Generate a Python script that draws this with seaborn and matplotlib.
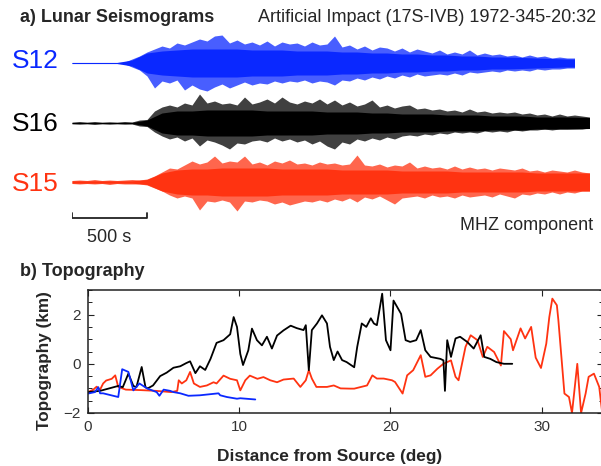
import numpy as np
import matplotlib
matplotlib.use("Agg")
import matplotlib.pyplot as plt
from matplotlib.ticker import MultipleLocator
import seaborn as sns

# --- seismogram envelopes (relative amplitude), outer peaks every 50 s ---
dt_env = 50
s12_up = [0.6, 0.6, 0.6, 0.6, 0.6, 0.6, 0.6, 0.8,
          4, 7, 11, 14, 17, 15, 20, 18, 21, 24,
          22, 27, 28, 20, 23, 19, 21, 18, 22, 17,
          21, 19, 20, 17, 21, 18, 19, 27, 16, 18,
          14, 17, 13, 16, 15, 12, 15, 11, 14, 12,
          10, 13, 9, 11, 9, 13, 8, 10, 8, 9,
          7, 8, 6, 8, 6, 7, 5, 6, 5, 5]
s12_dn = [0.6, 0.6, 0.6, 0.6, 0.6, 0.6, 0.6, 0.8,
          4, 7, 13, 25, 18, 20, 17, 27, 22, 26,
          28, 24, 21, 25, 22, 19, 22, 20, 21, 18,
          20, 18, 19, 17, 20, 18, 19, 22, 17, 18,
          15, 17, 14, 16, 13, 15, 12, 14, 11, 13,
          12, 11, 12, 10, 12, 9, 10, 9, 8, 9,
          7, 8, 7, 8, 6, 7, 6, 6, 5, 5]
s16_up = [0.8, 1.5, 0.8, 1.5, 0.8, 1.2, 0.8, 1.5, 1.0,
          3, 3.5, 12, 16, 18, 16, 20, 18, 29, 20,
          22, 19, 20, 18, 26, 19, 21, 24, 20, 26,
          21, 19, 22, 20, 24, 19, 23, 18, 21, 17,
          19, 23, 16, 18, 15, 17, 18, 14, 15, 13,
          14, 12, 13, 11, 14, 11, 12, 10, 11, 10,
          11, 9, 10, 8, 9, 7, 9, 7, 8, 7, 6]
s16_dn = [0.8, 1.2, 0.8, 1.5, 0.8, 1.2, 0.8, 1.2, 1.0,
          3, 3.5, 9, 13, 16, 14, 18, 15, 23, 17,
          19, 22, 26, 20, 21, 18, 17, 19, 15, 18,
          16, 19, 17, 21, 18, 23, 26, 19, 21, 16,
          18, 15, 17, 14, 16, 13, 12, 13, 11, 12,
          10, 11, 9, 10, 9, 10, 8, 9, 8, 9,
          7, 8, 7, 7, 6, 7, 6, 6, 6, 6, 5]
s15_up = [1.5, 2, 1.5, 2.5, 1.5, 2, 1.5, 2, 2.5, 2,
          3, 6, 10, 14, 13, 17, 21, 18, 20, 26,
          19, 21, 20, 26, 18, 20, 17, 21, 19, 22,
          18, 19, 17, 20, 18, 19, 17, 18, 27, 17,
          16, 18, 15, 17, 16, 20, 14, 16, 14, 15,
          13, 16, 13, 15, 13, 14, 12, 14, 13, 12,
          14, 11, 12, 10, 12, 11, 10, 12, 10, 9]
s15_dn = [1.5, 2, 1.5, 2, 1.5, 2.5, 1.5, 2, 2, 2,
          3, 6, 9, 13, 16, 14, 16, 28, 19, 20,
          18, 20, 29, 19, 20, 18, 19, 22, 20, 23,
          21, 19, 20, 18, 20, 17, 19, 16, 20, 15,
          17, 14, 18, 22, 16, 15, 14, 16, 13, 15,
          14, 16, 13, 15, 14, 13, 15, 12, 14, 16,
          12, 13, 11, 12, 10, 12, 10, 11, 9, 9]

# dense core of each trace, every 100 s
dt_core = 100
s12_core = [0.5, 0.5, 0.5, 0.5, 3, 10, 12, 13, 14, 14, 14, 14, 13, 13, 13, 12, 12,
            12, 11, 11, 10, 10, 9, 9, 8, 8, 7, 7, 6, 6, 5.5, 5, 4.5, 4, 4]
s16_core = [0.6, 0.6, 0.6, 0.6, 0.6, 3, 10, 12, 12, 13, 13, 13, 13, 12, 12, 12, 12,
            11, 11, 11, 10, 10, 9, 9, 9, 8, 8, 8, 7, 7, 7, 6, 6, 6, 5.5]
s15_core = [1.2, 1.2, 1.2, 1.2, 1.2, 2.5, 9, 12, 13, 13, 14, 14, 14, 14, 13, 13, 13,
            13, 12, 12, 12, 12, 11, 11, 11, 11, 10, 10, 10, 10, 10, 9, 9, 9, 9]

# --- topography along the paths ---
black_deg = [0, 0.8, 1.4, 2.0, 2.3, 2.67, 3.0, 3.2, 3.55, 3.8,
             3.95, 4.3, 4.77, 5.2, 5.65, 6.1, 6.5, 6.75, 7.1, 7.4,
             7.75, 8.1, 8.5, 8.96, 9.4, 9.63, 9.85, 10.07, 10.25, 10.6,
             10.84, 11.17, 11.5, 11.83, 12.16, 12.5, 12.93, 13.4, 13.8, 14.25,
             14.4, 14.6, 14.8, 15.14, 15.47, 15.8, 16.0, 16.25, 16.5, 16.8,
             17.1, 17.6, 17.8, 18.1, 18.4, 18.7, 18.9, 19.1, 19.45, 19.7,
             20.0, 20.2, 20.7, 21.0, 21.3, 21.7, 22.0, 22.3, 22.65, 23.3,
             23.5, 23.6, 23.75, 24.0, 24.3, 24.6, 25.07, 25.5, 25.96, 26.2,
             26.6, 27.0, 27.5, 28.05]
black_km = [-1.15, -1.1, -1.0, -0.9, -0.95, -0.4, -0.9, -0.95, -0.13, -0.95,
            -1.0, -0.88, -0.5, -0.36, -0.16, -0.1, 0.03, 0.1, -0.38, -0.1,
            -0.25, 0.2, 0.85, 0.96, 1.2, 1.9, 1.5, 0.4, -0.05, 0.55,
            1.43, 0.96, 0.75, 1.1, 0.62, 1.15, 1.36, 1.55, 1.45, 1.37,
            1.57, -0.26, 1.37, 1.64, 1.97, 1.64, 0.69, 0.15, 0.5, 0.15,
            0.07, -0.14, 0.69, 1.64, 1.5, 1.85, 1.64, 1.57, 2.85, 0.96,
            0.55, 2.57, 2.03, 0.96, 0.89, 0.96, 1.37, 0.55, 0.28, 0.2,
            0.14, -1.1, 0.96, 0.28, 1.03, 1.1, 0.89, 0.62, 1.16, 0.28,
            0.2, 0.07, 0.0, 0.0]
red_deg = [0, 0.35, 0.57, 0.8, 1.0, 1.2, 1.57, 1.8, 2.0, 2.5,
           3.5, 4.5, 5.5, 5.9, 6.0, 6.2, 6.5, 6.75, 7.0, 7.4,
           7.86, 8.3, 8.5, 8.96, 9.4, 9.85, 10.07, 10.4, 10.7, 11.2,
           11.6, 12.05, 12.5, 12.93, 13.6, 14.04, 14.4, 14.6, 14.8, 15.1,
           15.8, 16.25, 16.7, 17.35, 17.6, 18.45, 18.8, 19.1, 19.55, 20.1,
           20.3, 20.8, 21.1, 21.5, 22.0, 22.3, 22.65, 23.1, 23.5, 24.0,
           24.3, 24.5, 24.96, 25.3, 25.75, 26.1, 26.4, 26.85, 27.3, 27.5,
           27.95, 28.1, 28.6, 28.9, 29.3, 29.6, 29.95, 30.3, 30.5, 30.7,
           31.0, 31.1, 31.5, 31.8, 32.0, 32.35, 32.6, 32.9, 33.1, 33.45,
           33.8, 34.0]
red_km = [-1.15, -1.05, -0.93, -1.05, -0.8, -0.68, -0.61, -0.47, -0.94, -1.05,
          -1.07, -1.1, -1.15, -1.1, -0.67, -0.8, -0.67, -0.33, -0.8, -0.94,
          -0.88, -0.75, -0.8, -0.48, -0.61, -0.67, -1.08, -0.67, -0.48, -0.61,
          -0.54, -0.67, -0.75, -0.64, -0.6, -0.94, -0.67, -0.26, -0.6, -0.94,
          -0.94, -0.88, -1.0, -1.01, -1.01, -0.88, -0.47, -0.6, -0.6, -0.67,
          -0.74, -1.21, -0.47, -0.26, 0.35, -0.53, -0.47, -0.2, 0.0, 0.14,
          -0.53, -0.67, 0.69, 1.16, 0.96, 0.28, 0.69, 0.48, -0.07, 1.33,
          1.0, 0.55, 1.44, 1.03, 1.5, 0.25, -0.17, 0.82, 1.9, 2.65,
          2.38, 1.77, -1.21, -1.35, -2.0, 0.0, -2.0, -1.21, -0.53, -0.4,
          -0.94, -2.0]
blue_deg = [0, 0.46, 0.68, 0.8, 1.0, 2.0, 2.26, 2.67, 3.0, 3.4, 3.9, 4.54, 4.72,
            5.0, 5.43, 5.65, 6.1, 6.64, 7.4, 8.63, 8.74, 9.18, 9.85, 10.07, 11.06]
blue_km = [-1.21, -1.15, -0.95, -1.2, -1.2, -1.35, -0.22, -0.33, -1.08, -0.8, -1.0,
           -1.15, -1.3, -1.05, -1.1, -1.15, -1.2, -1.3, -1.28, -1.2, -1.28, -1.35,
           -1.42, -1.4, -1.45]

BLUE = '#0a28ff'
RED = '#ff3311'

sns.set_theme(style='white')
plt.rcParams['font.family'] = ['Liberation Sans', 'DejaVu Sans']

W, H = 601, 466
fig = plt.figure(figsize=(W / 100, H / 100), dpi=100)


def box(x0, y0, x1, y1):
    return [x0 / W, 1 - y1 / H, (x1 - x0) / W, (y1 - y0) / H]


def ftext(x, y, s, **kw):
    fig.text(x / W, 1 - y / H, s, **kw)


# ---------- a) seismograms ----------
ax = fig.add_axes(box(72, 30, 597, 230))
ax.set_xlim(0, 3500)
ax.set_ylim(-200, 0)
ax.axis('off')

traces = [(s12_up, s12_dn, s12_core, BLUE, -33),
          (s16_up, s16_dn, s16_core, 'black', -93),
          (s15_up, s15_dn, s15_core, RED, -152)]
for up, dn, core, col, off in traces:
    t = np.arange(len(up)) * dt_env
    ax.fill_between(t, off + np.array(up), off - np.array(dn), color=col, alpha=0.75, lw=0)
    tc = np.arange(len(core)) * dt_core
    tc[-1] = t[-1]
    core = np.array(core)
    ax.fill_between(tc, off + core, off - core, color=col, lw=0)

# 500 s scale bar
ax.plot([0, 0, 500, 500], [-183, -188, -188, -183], color='#222222', lw=1.3)

ftext(20, 18, 'a) Lunar Seismograms', fontsize=13, fontweight='bold', va='center')
ftext(596, 18, 'Artificial Impact (17S-IVB) 1972-345-20:32', fontsize=13, ha='right', va='center')
ftext(12, 61, 'S12', fontsize=19, color=BLUE, va='center')
ftext(12, 124, 'S16', fontsize=19, color='black', va='center')
ftext(12, 184, 'S15', fontsize=19, color=RED, va='center')
ftext(109, 238, '500 s', fontsize=13, ha='center', va='center')
ftext(593, 226, 'MHZ component', fontsize=13, ha='right', va='center')

# ---------- b) topography ----------
ftext(20, 272, 'b) Topography', fontsize=13, fontweight='bold', va='center')
ax2 = fig.add_axes(box(88, 290, 603, 413))
sns.lineplot(x=red_deg, y=red_km, color=RED, lw=1.3, sort=False, estimator=None, ax=ax2)
sns.lineplot(x=black_deg, y=black_km, color='black', lw=1.3, sort=False, estimator=None, ax=ax2)
sns.lineplot(x=blue_deg, y=blue_km, color=BLUE, lw=1.3, sort=False, estimator=None, ax=ax2)
ax2.set_xlim(0, 34.05)
ax2.set_ylim(-2, 3)
ax2.set_xticks([0, 10, 20, 30])
ax2.set_yticks([-2, 0, 2])
ax2.yaxis.set_minor_locator(MultipleLocator(0.5))
ax2.tick_params(which='both', direction='in', top=True, right=True, left=True, bottom=True,
                colors='#222222', labelcolor='#333333', labelsize=11)
ax2.tick_params(which='major', length=4.5, width=0.8, pad=5)
ax2.tick_params(which='minor', length=3, width=0.7)
for sp in ax2.spines.values():
    sp.set_linewidth(1.1)
    sp.set_color('#222222')
ax2.set_xlabel('')
ax2.set_ylabel('')
ftext(45, 361, 'Topography (km)', fontsize=12.3, fontweight='bold', rotation=90,
      ha='center', va='center')
ftext(330, 456, 'Distance from Source (deg)', fontsize=12.4, fontweight='bold',
      ha='center', va='center')

fig.savefig('out.png', dpi=100)
